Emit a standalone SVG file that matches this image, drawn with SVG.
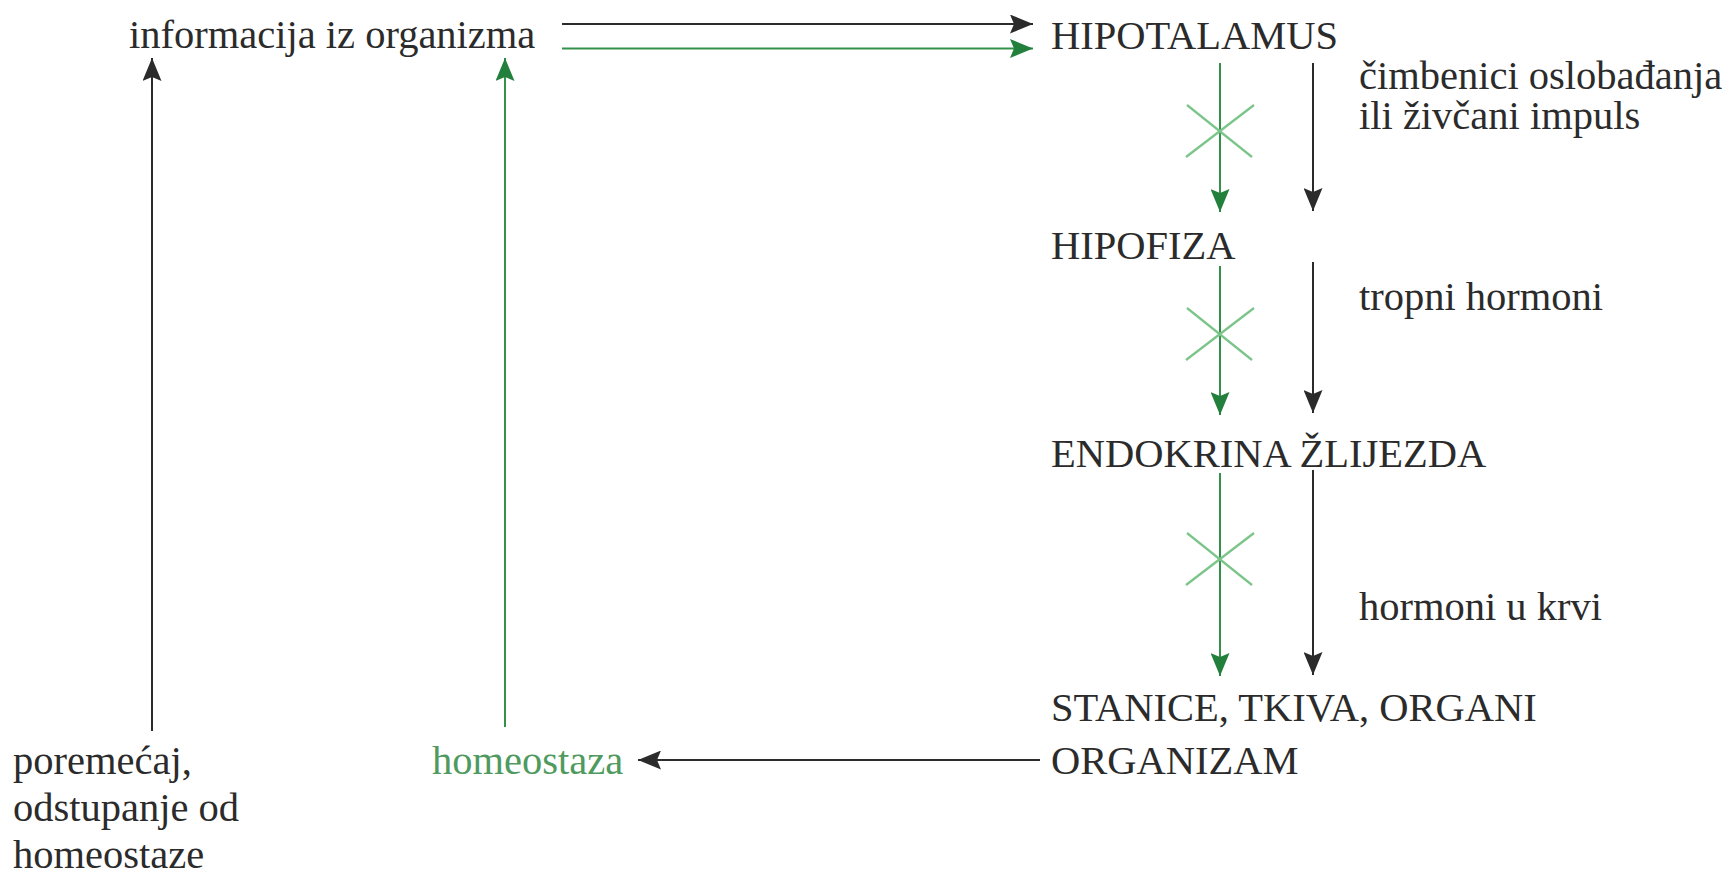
<svg xmlns="http://www.w3.org/2000/svg" width="1735" height="875" viewBox="0 0 1735 875" font-family="'Liberation Serif', 'DejaVu Serif', serif">
  <style>
    .t { font-family: "Liberation Serif", "DejaVu Serif", serif; font-size: 40.5px; fill: #2b2b2b; }
    .t.green { fill: #4f9a5e; }
    .blk { stroke: #2b2b2b; stroke-width: 2; fill: none; }
    .grn { stroke: #33914a; stroke-width: 2; fill: none; }
    .cross { stroke: #7cc58a; stroke-width: 2.3; fill: none; }
  </style>
  <defs>
    <marker id="ah-black" markerUnits="userSpaceOnUse" markerWidth="23" markerHeight="19" refX="23" refY="9.5" orient="auto">
      <path d="M0,0 L23,9.5 L0,19 L4,9.5 Z" fill="#2b2b2b"/>
    </marker>
    <marker id="ah-green" markerUnits="userSpaceOnUse" markerWidth="23" markerHeight="19" refX="23" refY="9.5" orient="auto">
      <path d="M0,0 L23,9.5 L0,19 L4,9.5 Z" fill="#23803c"/>
    </marker>
    <g id="block-x">
      <line x1="-33" y1="-26" x2="32" y2="26"/>
      <line x1="34" y1="-26" x2="-34" y2="26"/>
    </g>
  </defs>

  <!-- connectors -->
  <g id="connectors">
    <!-- information from the body to the hypothalamus -->
    <line class="blk" x1="562" y1="24" x2="1033" y2="24" marker-end="url(#ah-black)"/>
    <line class="grn" x1="562" y1="48.5" x2="1033" y2="48.5" marker-end="url(#ah-green)"/>

    <!-- feedback paths up the left side -->
    <line class="blk" x1="152" y1="731" x2="152" y2="58" marker-end="url(#ah-black)"/>
    <line class="grn" x1="505" y1="727" x2="505" y2="58" marker-end="url(#ah-green)"/>

    <!-- hypothalamus to pituitary -->
    <line class="grn" x1="1220" y1="63" x2="1220" y2="212" marker-end="url(#ah-green)"/>
    <line class="blk" x1="1313" y1="63" x2="1313" y2="211" marker-end="url(#ah-black)"/>

    <!-- pituitary to endocrine gland -->
    <line class="grn" x1="1220" y1="266" x2="1220" y2="415" marker-end="url(#ah-green)"/>
    <line class="blk" x1="1313" y1="262" x2="1313" y2="413" marker-end="url(#ah-black)"/>

    <!-- endocrine gland to cells, tissues, organs -->
    <line class="grn" x1="1220" y1="473" x2="1220" y2="676" marker-end="url(#ah-green)"/>
    <line class="blk" x1="1313" y1="470" x2="1313" y2="675" marker-end="url(#ah-black)"/>

    <!-- organism back to homeostasis -->
    <line class="blk" x1="1040" y1="760" x2="638" y2="760" marker-end="url(#ah-black)"/>

    <!-- inhibition crosses on the green pathway -->
    <use href="#block-x" class="cross" x="1220" y="131"/>
    <use href="#block-x" class="cross" x="1220" y="334"/>
    <use href="#block-x" class="cross" x="1220" y="559"/>
  </g>

  <g id="info">
    <text class="t" x="129" y="48">informacija iz organizma</text>
  </g>
  <g id="hipotalamus">
    <text class="t" x="1051" y="49">HIPOTALAMUS</text>
  </g>
  <g id="label-releasing">
    <text class="t" x="1359" y="89">čimbenici oslobađanja</text>
    <text class="t" x="1359" y="129">ili živčani impuls</text>
  </g>
  <g id="hipofiza">
    <text class="t" x="1051" y="259">HIPOFIZA</text>
  </g>
  <g id="label-tropic">
    <text class="t" x="1359" y="310">tropni hormoni</text>
  </g>
  <g id="endokrina">
    <text class="t" x="1051" y="467">ENDOKRINA ŽLIJEZDA</text>
  </g>
  <g id="label-blood">
    <text class="t" x="1359" y="620">hormoni u krvi</text>
  </g>
  <g id="organizam">
    <text class="t" x="1051" y="721">STANICE, TKIVA, ORGANI</text>
    <text class="t" x="1051" y="774">ORGANIZAM</text>
  </g>
  <g id="homeostaza">
    <text class="t green" x="432" y="774">homeostaza</text>
  </g>
  <g id="poremecaj">
    <text class="t" x="13" y="774">poremećaj,</text>
    <text class="t" x="13" y="821">odstupanje od</text>
    <text class="t" x="13" y="868">homeostaze</text>
  </g>
</svg>
